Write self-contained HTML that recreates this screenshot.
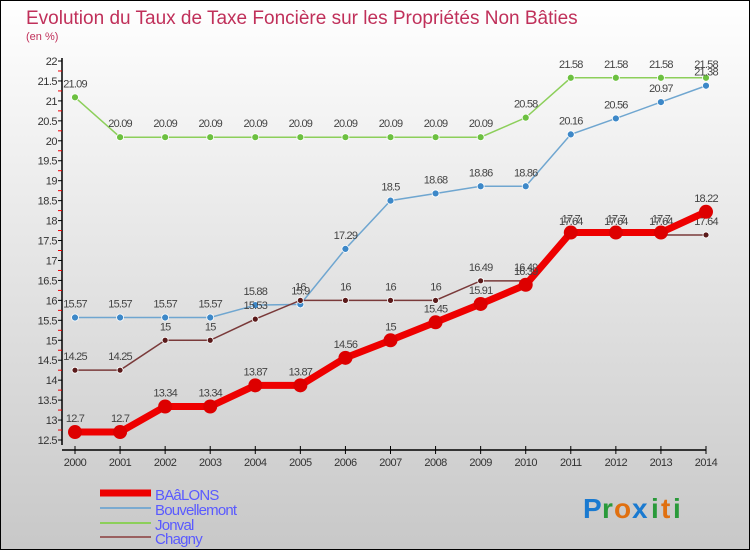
<!DOCTYPE html>
<html><head><meta charset="utf-8"><style>
html,body{margin:0;padding:0}
body{width:750px;height:550px;overflow:hidden;font-family:"Liberation Sans",sans-serif}
</style></head><body>
<svg id="c" width="750" height="550" xmlns="http://www.w3.org/2000/svg">
<defs><linearGradient id="bg" x1="0" y1="0" x2="0" y2="1"><stop offset="0" stop-color="#ffffff"/><stop offset="1" stop-color="#c8c8c8"/></linearGradient></defs>
<rect x="0.5" y="0.5" width="749" height="549" fill="url(#bg)" stroke="#000"/>
<text x="26" y="24" font-size="19" fill="#c0305a">Evolution du Taux de Taxe Foncière sur les Propriétés Non Bâties</text>
<text x="26" y="40" font-size="11" fill="#c0305a">(en %)</text>
<g id="axes"></g><g id="series"></g><g id="legend"></g>
<g font-size="28" font-weight="bold" font-family="Liberation Sans,sans-serif">
<text x="583" y="518" fill="#1a7ad0">P</text><text x="602" y="518" fill="#2a9a3a">r</text><text x="614" y="518" fill="#e07010">o</text><text x="632" y="518" fill="#1a7ad0">x</text><text x="651" y="518" fill="#2a9a3a">i</text><text x="661" y="518" fill="#e07010">t</text><text x="673" y="518" fill="#2a9a3a">i</text></g>
</svg>
<script>
const years=[2000,2001,2002,2003,2004,2005,2006,2007,2008,2009,2010,2011,2012,2013,2014];
const baalons=[12.7,12.7,13.34,13.34,13.87,13.87,14.56,15,15.45,15.91,16.39,17.7,17.7,17.7,18.22];
const bouvellemont=[15.57,15.57,15.57,15.57,15.88,15.9,17.29,18.5,18.68,18.86,18.86,20.16,20.56,20.97,21.38];
const jonval=[21.09,20.09,20.09,20.09,20.09,20.09,20.09,20.09,20.09,20.09,20.58,21.58,21.58,21.58,21.58];
const chagny=[14.25,14.25,15,15,15.53,16,16,16,16,16.49,16.49,17.64,17.64,17.64,17.64];
const yTicks=[12.5,13,13.5,14,14.5,15,15.5,16,16.5,17,17.5,18,18.5,19,19.5,20,20.5,21,21.5,22];
const NS="http://www.w3.org/2000/svg";
function X(i){return 75+i*(706-75)/14;}
function Y(v){return 440-(v-12.5)*(440-61)/9.5;}
function mk(t,a,p){const e=document.createElementNS(NS,t);for(const k in a)e.setAttribute(k,a[k]);p.appendChild(e);return e;}
const ax=document.getElementById('axes');
let yl=mk('line',{x1:62,y1:58,x2:62,y2:445,stroke:'#000','stroke-width':1.5},ax);


let xl=mk('line',{x1:62,y1:450,x2:706,y2:450,stroke:'#000','stroke-width':1.5},ax);


yTicks.forEach((v,k)=>{const y=Y(v);
 mk('line',{x1:58,y1:y,x2:62,y2:y,stroke:'#000'},ax);
 if(k<yTicks.length-1)mk('line',{x1:58,y1:y-(Y(12.5)-Y(12.75)),x2:62,y2:y-(Y(12.5)-Y(12.75)),stroke:'#e00'},ax);
 const t=mk('text',{x:57,y:y+4,'text-anchor':'end','font-size':11,fill:'#333','letter-spacing':'-0.5'},ax);t.textContent=v;
 
 });
years.forEach((yr,i)=>{const x=X(i);
 mk('line',{x1:x,y1:446,x2:x,y2:454,stroke:'#000'},ax);
 const t=mk('text',{x:x,y:466,'text-anchor':'middle','font-size':11,fill:'#333','letter-spacing':'-0.5'},ax);t.textContent=yr;
 
 });
const sg=document.getElementById('series');
const defs=[[jonval,'#8ccf5a','#6cc040',1.5,3.5,'jonval'],[bouvellemont,'#6fa6d0','#3d88c8',1.5,3.5,'bouvellemont'],[chagny,'#7a3a3a','#5a1a1a',1.5,3,'chagny'],[baalons,'#ee0000','#dd0000',7,7,'baalons']];
defs.forEach(([d,lc,pc,w,r,n])=>{
 const g=mk('g',{},sg);
 
 
 mk('polyline',{points:d.map((v,i)=>X(i)+','+Y(v)).join(' '),fill:'none',stroke:lc,'stroke-width':w},g);
 d.forEach((v,i)=>{const p=mk('circle',{cx:X(i),cy:Y(v),r:r,fill:pc,stroke:'#fff','stroke-width':n==='baalons'?0:0.8},g);
  
  
  const t=mk('text',{x:X(i),y:Y(v)-10,'text-anchor':'middle','font-size':11,fill:'#444','letter-spacing':'-0.8'},g);t.textContent=v;
  
  });
});
const lg=document.getElementById('legend');
const leg=[['BAâLONS','#ee0000',7,493],['Bouvellemont','#7aaad0',2,508],['Jonval','#8ccf5a',2,523],['Chagny','#9a6060',2,537]];
leg.forEach(([name,c,w,y])=>{
 const g=mk('g',{},lg);
 
 
 mk('line',{x1:100,y1:y,x2:151,y2:y,stroke:c,'stroke-width':w},g);
 const t=mk('text',{x:155,y:y+7,'font-size':15,fill:'#5a5aff','letter-spacing':'-0.8'},g);t.textContent=name;});
</script>
</body></html>
